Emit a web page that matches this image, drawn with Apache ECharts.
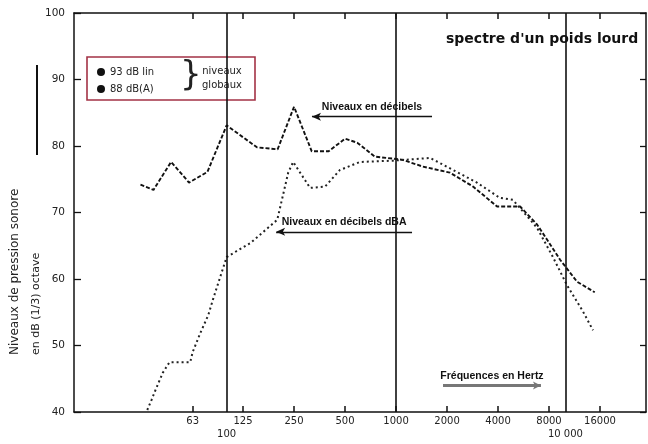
<!DOCTYPE html>
<html>
<head>
<meta charset="utf-8">
<script src="https://cdn.jsdelivr.net/npm/echarts@6/dist/echarts.min.js"></script>
<style>html,body{margin:0;padding:0;background:#fff}#c{width:648px;height:444px}</style>
</head>
<body>
<div id="c"></div>
<script>
// Niveau en dB (lin), par fréquence (Hz)
const linFreq  = [31, 37, 47, 60, 77, 100, 151, 200, 250, 318, 400, 500, 590, 750, 960, 1100, 1440, 2080, 2850, 3950, 5400, 6800, 7800, 9300, 11700, 14900];
const linLevel = [74.2, 73.4, 77.6, 74.5, 76.1, 83.1, 79.8, 79.5, 85.9, 79.2, 79.2, 81.1, 80.5, 78.4, 78.1, 77.9, 76.9, 76.0, 73.9, 70.9, 70.9, 68.2, 65.9, 62.9, 59.6, 58.0];
// Niveau en dB(A)
const dbaFreq  = [34, 36, 38, 42, 46, 61, 63, 70, 78, 83, 100, 138, 199, 231, 247, 311, 381, 467, 613, 960, 1590, 2170, 3000, 4100, 4900, 6800, 8440, 10200, 12700, 14550];
const dbaLevel = [40.3, 41.8, 43.3, 45.9, 47.5, 47.5, 49.0, 51.9, 54.6, 56.9, 63.3, 65.4, 68.9, 76.0, 77.6, 73.7, 73.9, 76.4, 77.6, 77.8, 78.2, 76.4, 74.5, 72.2, 71.9, 67.7, 63.3, 59.1, 55.1, 52.3];
// Graduations
const freqTicks = [63, 125, 250, 500, 1000, 2000, 4000, 8000, 16000];
const refLines = [100, 1000, 10000];
const refLabels = ['100', '', '10 000'];
const seriesNames = ['93 dB lin', '88 dB(A)'];

const FONT = 'DejaVu Sans';
const chart = echarts.init(document.getElementById('c'));

const axisBase = {
  type: 'log', logBase: 10, min: 12.56, max: 29900,
  axisLine: { show: true, lineStyle: { color: '#111', width: 1.5 } },
  axisTick: { show: true, inside: true, length: 6, customValues: freqTicks, lineStyle: { color: '#111', width: 1.5 } },
  splitLine: { show: false }, minorTick: { show: false }
};

const arrowLabel = (txt) => ({
  show: true, position: 'insideMiddleTop', distance: 4, formatter: txt,
  fontFamily: 'Liberation Sans', fontSize: 10.5, fontWeight: 'bold', color: '#111'
});

const markLineData = refLines.map((f, i) => ({
  xAxis: f,
  lineStyle: { color: '#111', width: 1.6, type: 'solid' },
  label: refLabels[i] ? { show: true, position: 'start', distance: 17, formatter: refLabels[i], fontFamily: FONT, fontSize: 10, color: '#222' } : { show: false }
}));
markLineData.push([
  { coord: [319, 84.4], symbol: 'arrow', symbolSize: [6, 9] },
  { coord: [1631, 84.4], symbol: 'none', lineStyle: { color: '#111', width: 1.4, type: 'solid' }, label: arrowLabel('Niveaux en décibels') }
]);
markLineData.push([
  { coord: [196, 67.1], symbol: 'arrow', symbolSize: [6, 9] },
  { coord: [1243, 67.1], symbol: 'none', lineStyle: { color: '#111', width: 1.4, type: 'solid' }, label: arrowLabel('Niveaux en décibels dBA') }
]);
markLineData.push([
  { coord: [1894, 44.0], symbol: 'none' },
  { coord: [7170, 44.0], symbol: 'arrow', symbolSize: [6, 8], lineStyle: { color: '#777', width: 3, type: 'solid' }, label: arrowLabel('Fréquences en Hertz') }
]);

chart.setOption({
  animation: false,
  backgroundColor: '#fff',
  title: {
    text: "spectre d'un poids lourd", left: 441, top: 27,
    textStyle: { fontFamily: FONT, fontSize: 14, fontWeight: 'bold', color: '#111' }
  },
  legend: {
    data: seriesNames, orient: 'vertical', left: 92, top: 62, itemGap: 7,
    icon: 'circle', itemWidth: 8, itemHeight: 8,
    textStyle: { fontFamily: FONT, fontSize: 10, color: '#222' }
  },
  grid: { left: 74, right: 2, top: 13, bottom: 32 },
  xAxis: [
    Object.assign({}, axisBase, {
      position: 'bottom',
      axisLabel: { show: true, customValues: freqTicks, margin: 4, fontFamily: FONT, fontSize: 10, color: '#222', formatter: v => String(Math.round(v)) }
    }),
    Object.assign({}, axisBase, { position: 'top', axisLabel: { show: false } })
  ],
  yAxis: [
    { type: 'value', min: 40, max: 100, interval: 10,
      axisLine: { show: true, lineStyle: { color: '#111', width: 1.5 } },
      axisTick: { show: true, inside: true, length: 7, lineStyle: { color: '#111', width: 1.3 } },
      axisLabel: { margin: 9, fontFamily: FONT, fontSize: 10.5, color: '#222' },
      splitLine: { show: false } },
    { type: 'value', min: 40, max: 100, interval: 10, position: 'right',
      axisLine: { show: true, lineStyle: { color: '#111', width: 1.5 } },
      axisTick: { show: true, inside: true, length: 6, lineStyle: { color: '#111', width: 1.3 } },
      axisLabel: { show: false }, splitLine: { show: false } }
  ],
  series: [
    { name: seriesNames[0], type: 'line', symbol: 'none', itemStyle: { color: '#111' },
      lineStyle: { color: '#111', width: 1.9, type: [4, 2] },
      data: linFreq.map((f, i) => [f, linLevel[i]]),
      markLine: { silent: true, symbol: ['none', 'none'], animation: false, data: markLineData }
    },
    { name: seriesNames[1], type: 'line', symbol: 'none', itemStyle: { color: '#111' },
      lineStyle: { color: '#222', width: 2, type: [2, 3] },
      data: dbaFreq.map((f, i) => [f, dbaLevel[i]]) }
  ],
  graphic: [
    { type: 'rect', shape: { x: 87, y: 57, width: 168, height: 43 }, style: { fill: 'none', stroke: '#a33245', lineWidth: 1.6 } },
    { type: 'text', x: 180, y: 59, style: { text: '}', fontFamily: FONT, fontSize: 34, fill: '#222' } },
    { type: 'text', x: 222, y: 78, style: { text: 'niveaux\nglobaux', fontFamily: FONT, fontSize: 10, lineHeight: 14, fill: '#222', align: 'center', verticalAlign: 'middle' } },
    { type: 'line', shape: { x1: 37, y1: 65, x2: 37, y2: 155 }, style: { stroke: '#111', lineWidth: 2 } },
    { type: 'text', x: 15, y: 355, rotation: Math.PI / 2, style: { text: 'Niveaux de pression sonore', fontFamily: FONT, fontSize: 12, fill: '#222', align: 'left', verticalAlign: 'middle' } },
    { type: 'text', x: 36, y: 355, rotation: Math.PI / 2, style: { text: 'en dB (1/3) octave', fontFamily: FONT, fontSize: 11, fill: '#222', align: 'left', verticalAlign: 'middle' } }
  ]
});
</script>
</body>
</html>
